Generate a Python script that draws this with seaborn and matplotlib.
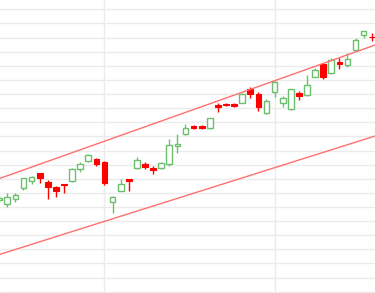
import matplotlib
matplotlib.use("Agg")
import matplotlib.pyplot as plt
import seaborn as sns
import numpy as np
import pandas as pd

# ---- data ----
idx = list(range(-1, 46))
opens = [112.95, 112.42, 113.09, 114.65, 115.72, 116.77, 115.50, 114.87, 115.21, 115.68,
         117.38, 118.55, 118.75, 118.41, 112.71, 114.31, 115.96, 117.56, 118.13, 117.48,
         117.56, 118.04, 120.68, 122.34, 123.51, 123.51, 123.14, 126.44, 126.63, 126.59,
         126.77, 128.71, 128.00, 125.35, 128.33, 126.77, 125.83, 128.19, 127.86, 130.45,
         132.21, 130.93, 132.49, 132.11, 134.23, 136.36, 136.12]
highs = [113.55, 113.98, 114.02, 116.10, 116.43, 116.81, 115.82, 114.97, 115.25, 117.48,
         118.41, 119.50, 118.94, 118.51, 113.55, 115.92, 116.00, 119.04, 118.41, 117.85,
         118.41, 121.63, 122.34, 123.71, 123.61, 123.61, 124.60, 126.77, 126.73, 126.77,
         128.10, 128.95, 128.24, 127.29, 129.89, 127.76, 128.71, 128.47, 130.69, 131.64,
         132.25, 133.06, 133.06, 133.85, 135.89, 136.97, 136.60]
lows = [112.71, 112.00, 112.71, 114.40, 115.25, 115.35, 113.09, 113.37, 113.94, 115.50,
        117.00, 118.41, 117.85, 115.11, 111.10, 114.26, 114.31, 117.42, 117.42, 116.67,
        117.34, 117.85, 119.60, 122.24, 123.09, 123.09, 123.09, 125.50, 126.26, 126.12,
        126.69, 127.48, 125.64, 125.13, 127.62, 126.20, 125.78, 127.15, 127.72, 130.41,
        130.08, 130.84, 131.50, 131.87, 134.19, 135.89, 135.55]
closes = [113.31, 113.46, 113.65, 116.06, 116.20, 116.06, 114.87, 114.31, 115.07, 117.38,
          118.09, 119.36, 118.13, 115.44, 113.37, 115.25, 115.72, 118.61, 117.66, 117.20,
          118.19, 120.78, 120.88, 123.14, 123.23, 123.19, 124.56, 126.16, 126.40, 126.35,
          127.96, 128.00, 126.12, 127.01, 129.74, 127.48, 128.67, 127.76, 129.23, 131.40,
          130.45, 132.82, 132.25, 132.92, 135.65, 136.93, 136.03]

# channel lines (two end points each)
upper_x = [-0.9, 45.4]
upper_y = [116.06, 134.94]
lower_x = [-0.9, 45.4]
lower_y = [105.30, 122.05]

month_ticks = [12, 33]
price_ticks = list(range(100, 142, 2))

df = pd.DataFrame({"i": idx, "open": opens, "high": highs, "low": lows, "close": closes})
df["up"] = df["close"] >= df["open"]

sns.set_theme(style="whitegrid")
plt.rcParams["font.family"] = ["DejaVu Sans"]

GREEN = "#6cbf6c"
RED = "#ff0000"
LINE = "#ff7070"

fig = plt.figure(figsize=(3.75, 2.93), dpi=100)
ax = fig.add_axes([0, 0, 1, 1])
ax.set_facecolor("white")

# wicks
for up, col in [(True, GREEN), (False, RED)]:
    d = df[df["up"] == up]
    ax.vlines(d["i"], d["low"], d["high"], color=col, linewidth=1.0, zorder=2)

# bodies
w = 0.7
d = df[df["up"]]
ax.bar(d["i"], d["close"] - d["open"], bottom=d["open"], width=w,
       facecolor="white", edgecolor=GREEN, linewidth=1.0, zorder=3)
d = df[~df["up"]]
ax.bar(d["i"], d["open"] - d["close"], bottom=d["close"], width=w,
       facecolor=RED, edgecolor=RED, linewidth=0.8, zorder=3)

# channel lines
sns.lineplot(x=upper_x, y=upper_y, ax=ax, color=LINE, linewidth=1.0, zorder=4)
sns.lineplot(x=lower_x, y=lower_y, ax=ax, color=LINE, linewidth=1.0, zorder=4)

ax.set_xlim(-0.9, 45.4)
ax.set_ylim(99.82, 141.32)
ax.set_xticks(month_ticks)
ax.set_yticks(price_ticks)
ax.set_xticklabels([])
ax.set_yticklabels([])
ax.tick_params(length=0)
ax.grid(True, color="#ebebeb", linewidth=1.0)
for s in ax.spines.values():
    s.set_visible(False)

fig.savefig("out.png", dpi=100, facecolor="white")
